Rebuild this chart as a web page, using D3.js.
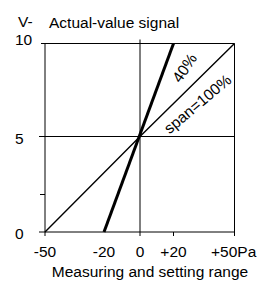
<!DOCTYPE html>
<html><head><meta charset="utf-8">
<script src="https://cdn.jsdelivr.net/npm/d3@7"></script>
<style>
html,body{margin:0;padding:0;background:#fff;}
text{font-family:"Liberation Sans",Arial,sans-serif;fill:#000;}
</style></head>
<body><svg id="c" width="258" height="282"></svg>
<script>
// ---- data ----
const xTickLabels = [-50, -20, 0, 20, 50];
const xTickMarks = [-50, 0, 20, 50];
const yTickLabels = [0, 5, 10];
const yMinorTicks = [2];
const spanLine = [[-50, 0], [0, 5], [50, 10]];   // span = 100%
const span40Line = [[-20, 0], [20, 10]];          // 40%
const yUnit = "V-";
const yTitle = "Actual-value signal";
const xTitle = "Measuring and setting range";
const xUnit = "Pa";
const lineLabels = ["40%", "span=100%"];

// ---- drawing ----
const FS = 15.5;
const svg = d3.select("#c");
const x = d3.scaleLinear().domain([-50, -20, 0, 20, 50]).range([45, 104, 140, 173.5, 234.5]);
const y = d3.scaleLinear().domain([0, 5, 10]).range([232, 136.5, 43.5]);
const fmtX = d => d > 0 ? "+" + d : String(d);

// frame top/right
svg.append("line").attr("x1", 41).attr("x2", x(50)).attr("y1", y(10)).attr("y2", y(10)).attr("stroke", "#000");
svg.append("line").attr("x1", x(50)).attr("x2", x(50)).attr("y1", y(10)).attr("y2", y(0) + 1).attr("stroke", "#000");
// grid lines
svg.append("line").attr("x1", 39).attr("x2", x(50)).attr("y1", y(5)).attr("y2", y(5)).attr("stroke", "#000");
svg.append("line").attr("x1", x(0)).attr("x2", x(0)).attr("y1", y(10) - 4).attr("y2", y(0)).attr("stroke", "#000");
// axes
svg.append("line").attr("x1", x(-50)).attr("x2", x(-50)).attr("y1", y(10)).attr("y2", y(0)).attr("stroke", "#000");
svg.append("line").attr("x1", 39).attr("x2", x(50)).attr("y1", y(0)).attr("y2", y(0)).attr("stroke", "#000");
// y minor ticks
svg.selectAll(".ym").data(yMinorTicks).join("line")
  .attr("x1", 40).attr("x2", x(-50)).attr("y1", d => Math.round(y(d)) + 0.5).attr("y2", d => Math.round(y(d)) + 0.5).attr("stroke", "#000");
// x ticks
svg.selectAll(".xt").data(xTickMarks).join("line")
  .attr("x1", d => x(d)).attr("x2", d => x(d)).attr("y1", y(0)).attr("y2", y(0) + 4).attr("stroke", "#000");

// lines
const line = d3.line().x(d => x(d[0])).y(d => y(d[1]));
svg.append("path").attr("d", line(spanLine)).attr("fill", "none").attr("stroke", "#000").attr("stroke-width", 1.4);
svg.append("path").attr("d", line(span40Line)).attr("fill", "none").attr("stroke", "#000").attr("stroke-width", 3);

// y labels
svg.selectAll(".yl").data(yTickLabels).join("text")
  .attr("x", 15).attr("y", d => y(d) + (d === 10 ? 1.5 : 7))
  .attr("font-size", FS).text(d => d);
// x labels
svg.selectAll(".xl").data(xTickLabels).join("text")
  .attr("x", d => x(d)).attr("y", 257)
  .attr("text-anchor", d => d === 50 ? "start" : "middle")
  .attr("dx", d => d === 50 ? -23.5 : 0)
  .attr("font-size", FS).text(d => d === 50 ? fmtX(d) + xUnit : fmtX(d));
// titles
svg.append("text").attr("x", 18).attr("y", 27).attr("font-size", FS).text(yUnit);
svg.append("text").attr("x", 49).attr("y", 28).attr("font-size", FS).text(yTitle);
svg.append("text").attr("x", 150).attr("y", 277).attr("text-anchor", "middle").attr("font-size", FS).text(xTitle);

// line labels
svg.append("text").attr("transform", "translate(189,71) rotate(-56)").attr("text-anchor", "middle").attr("font-size", FS).text(lineLabels[0]);
svg.append("text").attr("transform", "translate(201,108) rotate(-40)").attr("text-anchor", "middle").attr("font-size", FS).text(lineLabels[1]);
</script></body></html>
